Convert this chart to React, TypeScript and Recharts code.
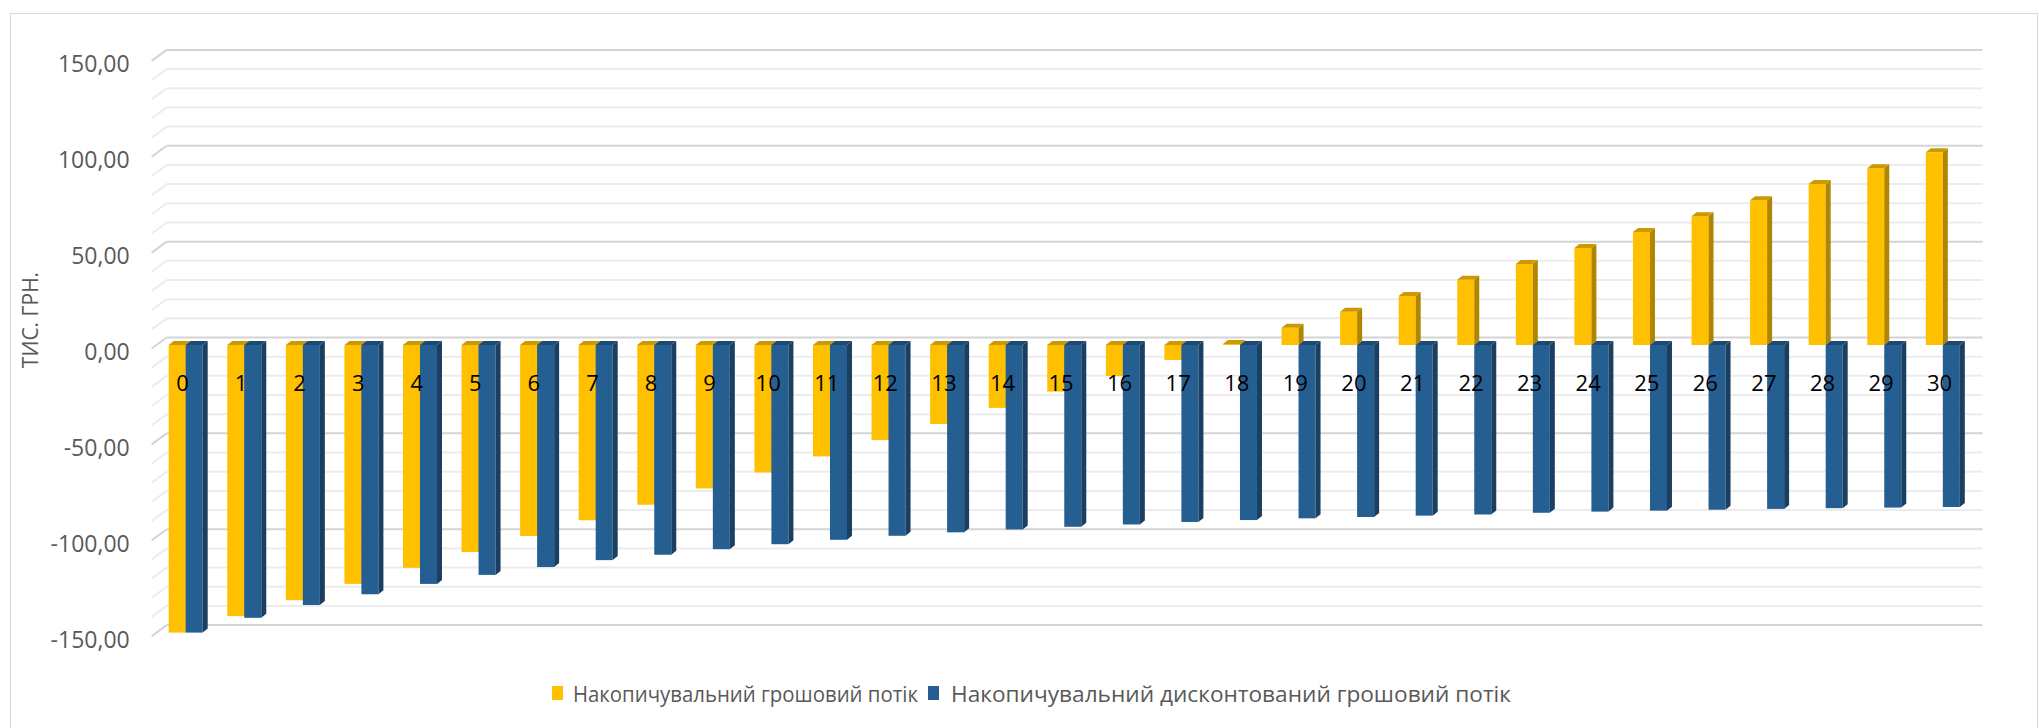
import { Bar, BarChart, CartesianGrid, Label, Legend, XAxis, YAxis } from "recharts";

// project years
const years = [
  0, 1, 2, 3, 4, 5, 6, 7, 8, 9, 10, 11, 12, 13, 14, 15, 16, 17, 18, 19, 20, 21,
  22, 23, 24, 25, 26, 27, 28, 29, 30,
];

// cumulative cash flow, thousand UAH
const cumulativeFlow = [
  -150.0, -141.4, -133.1, -124.6, -116.2, -108.0, -99.6, -91.4, -83.3, -74.8,
  -66.5, -58.1, -49.6, -41.2, -32.8, -24.3, -16.2, -7.8, 0.5, 9.0, 17.3, 25.6,
  34.0, 42.3, 50.6, 59.0, 67.2, 75.5, 84.0, 92.2, 100.5,
];

// cumulative discounted cash flow, thousand UAH
const cumulativeDiscounted = [
  -150.0, -142.3, -135.6, -130.0, -124.6, -119.9, -115.8, -112.2, -109.4,
  -106.5, -103.9, -101.6, -99.5, -97.7, -96.2, -94.8, -93.6, -92.3, -91.3,
  -90.4, -89.7, -89.0, -88.4, -87.5, -86.9, -86.4, -85.9, -85.5, -85.1, -84.8,
  -84.5,
];

const yTicks = [
  -150, -140, -130, -120, -110, -100, -90, -80, -70, -60, -50, -40, -30, -20,
  -10, 0, 10, 20, 30, 40, 50, 60, 70, 80, 90, 100, 110, 120, 130, 140, 150,
];
const Y_MIN = -150;
const Y_MAX = 150;

const SERIES_FLOW = "Накопичувальний грошовий потік";
const SERIES_DISC = "Накопичувальний дисконтований грошовий потік";

const data = years.map((year, i) => ({
  year,
  flow: cumulativeFlow[i],
  disc: cumulativeDiscounted[i],
}));

const W = 2039;
const H = 728;
const PLOT_TOP = 57.4;
const PLOT_BOTTOM = 632.6;
const PLOT_LEFT = 156.7;
const PLOT_RIGHT = 1972.4;
const X_AXIS_H = 30;
const ZERO_Y = PLOT_TOP + ((PLOT_BOTTOM - PLOT_TOP) * Y_MAX) / (Y_MAX - Y_MIN);

const FONT = "'Open Sans', 'Noto Sans', sans-serif";
const GREY_TEXT = "#595959";

// pseudo-3d depth of columns and of the back wall
const DX = 5;
const DY = 4;
const WALL_DX = 10;
const WALL_DY = 7.5;

const YELLOW = { front: "#FFC000", side: "#B08500", top: "#CC9A00" };
const BLUE = { front: "#255E91", side: "#1A3F60", top: "#1D4A73" };

type Palette = typeof YELLOW;

const Column3D = (props: any) => {
  const { x, y, width, height, palette } = props as {
    x: number;
    y: number;
    width: number;
    height: number;
    palette: Palette;
  };
  if (x == null || y == null) return <g />;
  const y0 = Math.min(y, y + height);
  const y1 = Math.max(y, y + height);
  const r = x + width;
  return (
    <g>
      <rect x={x} y={y0} width={width} height={y1 - y0} fill={palette.front} />
      <polygon
        points={`${r},${y0} ${r + DX},${y0 - DY} ${r + DX},${y1 - DY} ${r},${y1}`}
        fill={palette.side}
      />
      <polygon
        points={`${x},${y0} ${x + DX},${y0 - DY} ${r + DX},${y0 - DY} ${r},${y0}`}
        fill={palette.top}
      />
    </g>
  );
};

// back wall gridline with its short floor-edge diagonal on the left
const WallLine = (props: any) => {
  const { x1, x2, y1 } = props;
  const v = Y_MAX - ((y1 - PLOT_TOP) / (PLOT_BOTTOM - PLOT_TOP)) * (Y_MAX - Y_MIN);
  const major = Math.round(v) % 50 === 0;
  const stroke = major ? "#d4d4d4" : "#ececec";
  const by = y1 - WALL_DY;
  return (
    <g key={`wl-${y1}`}>
      <line x1={x1 - 5} y1={y1 + 3.5} x2={x1 + WALL_DX} y2={by} stroke={stroke} strokeWidth={2} />
      <line x1={x1 + WALL_DX} y1={by} x2={x2 + WALL_DX} y2={by} stroke={stroke} strokeWidth={2} />
    </g>
  );
};

const ValueTick = (props: any) => {
  const { x, y, payload } = props;
  if (payload.value % 50 !== 0) return <g />;
  return (
    <text
      x={x}
      y={y + 6}
      textAnchor="end"
      dominantBaseline="central"
      fontFamily={FONT}
      fontSize={23}
      fill={GREY_TEXT}
    >
      {payload.value.toFixed(2).replace(".", ",")}
    </text>
  );
};

const YearTick = (props: any) => {
  const { x, payload } = props;
  return (
    <text
      x={x - 3.5}
      y={ZERO_Y + 37}
      textAnchor="middle"
      dominantBaseline="central"
      fontFamily={FONT}
      fontSize={22}
      fill="#000"
    >
      {payload.value}
    </text>
  );
};

const LEGEND_KEYS = [
  { keyX: 552, textX: 573, textLen: 345 },
  { keyX: 928, textX: 951, textLen: 560 },
];

const LegendContent = (props: any) => {
  const items = props.payload ?? [];
  return (
    <svg width={W} height={30} style={{ display: "block" }}>
      {items.map((item: any, i: number) => {
        const pos = LEGEND_KEYS[i];
        if (!pos) return null;
        return (
          <g key={item.value}>
            <rect x={pos.keyX} y={8} width={11} height={14} fill={item.color} />
            <text
              x={pos.textX}
              y={15.5}
              dominantBaseline="central"
              fontFamily={FONT}
              fontSize={21}
              fill={GREY_TEXT}
              textLength={pos.textLen}
              lengthAdjust="spacingAndGlyphs"
            >
              {item.value}
            </text>
          </g>
        );
      })}
    </svg>
  );
};

const App = () => (
  <div
    style={{
      position: "absolute",
      left: 0,
      top: 0,
      width: W,
      height: H,
      overflow: "hidden",
      background: "#fff",
    }}
  >
    <div
      style={{
        position: "absolute",
        left: 10,
        top: 13,
        width: 2028,
        height: 730,
        boxSizing: "border-box",
        border: "1.3px solid #d9d9d9",
      }}
    />
    <BarChart
      width={W}
      height={H}
      data={data}
      barSize={17}
      barGap={0}
      margin={{
        top: PLOT_TOP,
        left: 0,
        right: W - PLOT_RIGHT,
        bottom: H - PLOT_BOTTOM - X_AXIS_H,
      }}
    >
      <CartesianGrid vertical={false} horizontal={(p: any) => <WallLine {...p} />} />
      <YAxis
        type="number"
        domain={[Y_MIN, Y_MAX]}
        ticks={yTicks}
        interval={0}
        width={PLOT_LEFT}
        axisLine={false}
        tickLine={false}
        tickSize={0}
        tickMargin={27}
        tick={(p: any) => <ValueTick {...p} />}
      >
        <Label
          content={() => (
            <text
              x={30}
              y={320}
              transform="rotate(-90 30 320)"
              textAnchor="middle"
              dominantBaseline="central"
              fontFamily={FONT}
              fontSize={21}
              fill={GREY_TEXT}
            >
              ТИС. ГРН.
            </text>
          )}
        />
      </YAxis>
      <Bar
        dataKey="flow"
        name={SERIES_FLOW}
        fill={YELLOW.front}
        isAnimationActive={false}
        shape={(p: any) => <Column3D {...p} palette={YELLOW} />}
      />
      <Bar
        dataKey="disc"
        name={SERIES_DISC}
        fill={BLUE.front}
        isAnimationActive={false}
        shape={(p: any) => <Column3D {...p} palette={BLUE} />}
      />
      <XAxis
        dataKey="year"
        height={X_AXIS_H}
        axisLine={false}
        tickLine={false}
        interval={0}
        tick={(p: any) => <YearTick {...p} />}
      />
      <Legend
        verticalAlign="middle"
        align="center"
        content={(p: any) => <LegendContent {...p} />}
        wrapperStyle={{ left: 0, top: 678, width: W, height: 30 }}
      />
    </BarChart>
  </div>
);

export default App;
